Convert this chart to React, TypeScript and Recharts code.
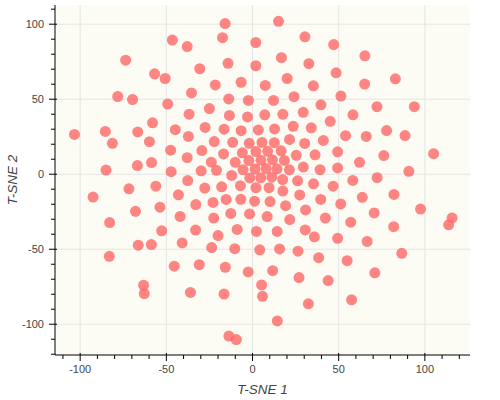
import React from "react";
import {
  ScatterChart,
  Scatter,
  XAxis,
  YAxis,
  CartesianGrid,
} from "recharts";

// t-SNE embedding
const tsne1 = [
  -15.9, 15.1, -17.4, 30.4, -46.5, -37.9, 1.9, 47.1, 65.2, -73.6,
  16.8, -14.2, 32.7, 1.9, -30.6, 48.5, -56.8, -50.7, 20.1, 82.9,
  -21.6, -6.6, 7.4, 35.3, 65.1, -35.4, -78.2, -69.6, -13.8, -2.4,
  12.2, 24.1, 51.3, -49.2, 39.7, 72.2, 93.9, -25.0, -36.8, -13.4,
  -2.9, 7.1, 17.6, 29.4, 58.3, -58.0, 45.1, -85.4, -66.6, -44.8,
  -27.5, -16.5, -6.6, 3.4, 12.8, 23.6, 34.1, -103.3, -37.2, 54.0,
  66.0, 77.8, 88.5, -81.3, -59.8, -22.2, -11.5, -1.9, 5.5, 12.7,
  21.5, 30.3, 41.1, -47.5, -29.4, -16.8, -5.9, 2.0, 8.8, 16.6,
  25.4, 36.3, 49.4, 76.2, 105.1, -37.9, -10.0, -2.1, 4.9, 11.6,
  18.5, -23.9, -58.6, -66.8, 62.1, -85.0, -47.2, -29.8, -20.9, -5.5,
  1.5, 7.9, 14.2, 21.4, 29.5, 39.2, 49.4, 90.7, -12.1, -1.6,
  4.8, 11.2, -37.6, 17.5, 26.2, 58.2, 72.3, -56.1, -7.0, 2.0,
  9.6, 35.4, 46.8, -71.7, -27.7, -17.9, 17.6, -92.5, -43.0, -15.3,
  -6.8, 1.2, 10.2, 27.4, 39.6, 63.7, 82.1, -32.9, -22.9, 19.2,
  51.2, -53.7, -67.9, -12.6, -1.7, 8.5, 30.8, 70.6, 97.5, -42.0,
  -22.5, 21.6, 42.3, 115.8, 113.8, -82.9, 57.0, -52.7, -33.0, -8.9,
  2.3, 14.3, 30.6, 81.9, -20.0, 35.9, 49.4, 66.5, -40.8, -66.3,
  -58.7, -23.7, -10.3, 4.2, 15.7, 26.4, 86.6, -83.1, 38.4, 54.9,
  -45.4, -30.9, -15.8, -2.5, 11.7, 71.0, 27.0, 43.9, 5.3, -63.2,
  -62.8, -36.0, -16.5, 5.8, 57.5, 32.4, 14.4, -13.7, -9.4,
];

const tsne2 = [
  100.4, 101.9, 91.0, 91.6, 89.4, 85.1, 87.8, 86.4, 78.9, 76.0,
  77.7, 73.9, 73.7, 72.3, 70.3, 67.6, 66.9, 63.8, 63.8, 63.6,
  59.5, 61.3, 59.2, 58.9, 60.1, 54.2, 51.8, 49.8, 50.2, 49.2,
  49.2, 51.7, 52.1, 46.8, 46.3, 45.0, 45.0, 43.8, 40.0, 39.2,
  38.2, 39.6, 39.9, 41.3, 39.6, 34.3, 35.3, 28.5, 28.2, 29.7,
  31.2, 30.0, 29.0, 29.5, 30.2, 31.9, 30.9, 26.5, 25.2, 25.7,
  25.2, 29.1, 25.8, 20.6, 21.7, 21.8, 21.3, 20.6, 21.2, 21.0,
  23.2, 20.5, 22.5, 16.0, 15.8, 13.5, 14.3, 15.1, 15.3, 15.6,
  12.6, 12.9, 14.9, 12.4, 13.7, 11.0, 7.9, 9.1, 9.3, 9.6,
  9.2, 8.0, 7.8, 5.8, 7.9, 2.8, 1.7, 2.3, 2.6, 3.0,
  3.4, 3.8, 3.6, 2.9, 4.8, 3.0, 4.2, 1.9, -0.8, -2.5,
  -2.4, -2.0, -4.2, -3.6, -4.4, -4.1, -2.3, -8.0, -7.6, -9.0,
  -9.0, -6.4, -8.0, -9.7, -9.2, -8.4, -11.2, -15.2, -13.7, -16.8,
  -16.7, -18.0, -18.2, -13.8, -16.8, -15.4, -13.5, -20.2, -18.8, -21.0,
  -19.8, -22.0, -24.7, -26.1, -26.5, -28.2, -23.8, -25.8, -23.2, -28.1,
  -29.2, -30.2, -29.2, -29.1, -33.7, -32.2, -32.0, -37.7, -37.2, -36.8,
  -38.1, -38.1, -37.1, -35.0, -40.9, -41.7, -42.7, -44.8, -45.8, -47.3,
  -46.9, -48.9, -49.6, -50.4, -49.8, -51.3, -52.7, -54.7, -55.6, -57.6,
  -61.3, -60.3, -62.0, -65.1, -64.3, -65.7, -68.9, -70.9, -73.8, -74.0,
  -79.6, -78.8, -79.9, -81.4, -83.7, -86.4, -97.8, -107.9, -110.2,
];

const xMajorTicks = [-100, -50, 0, 50, 100];
const yMajorTicks = [-100, -50, 0, 50, 100];
const xTicks = [
  -110, -100, -90, -80, -70, -60, -50, -40, -30, -20, -10, 0, 10, 20, 30, 40,
  50, 60, 70, 80, 90, 100, 110, 120,
];
const yTicks = [
  -120, -110, -100, -90, -80, -70, -60, -50, -40, -30, -20, -10, 0, 10, 20,
  30, 40, 50, 60, 70, 80, 90, 100, 110,
];

const data = tsne1.map((x, i) => ({ x, y: tsne2[i] }));

const X_DOMAIN: [number, number] = [-114.6, 126.2];
const Y_DOMAIN: [number, number] = [-120.5, 112.8];

const FONT = "Liberation Sans, Arial, sans-serif";
const labelStyle = {
  fontSize: 13.5,
  fill: "#444",
  fontStyle: "italic",
  fontFamily: FONT,
};

const Dot = (props: any) => (
  <circle cx={props.cx} cy={props.cy} r={5.5} fill="#ff6666" fillOpacity={0.8} />
);

// bokeh-style ticks: majors 2px in / 6px out with a label, minors 4px out
const XTick = (props: any) => {
  const { x, y, payload } = props;
  const major = xMajorTicks.includes(payload.value);
  return (
    <g>
      <line x1={x} x2={x} y1={y - (major ? 2 : 0)} y2={y + (major ? 6 : 4)} stroke="#000" />
      {major && (
        <text x={x} y={y + 10} dy="0.71em" textAnchor="middle" fontSize={11} fill="#444" fontFamily={FONT}>
          {payload.value}
        </text>
      )}
    </g>
  );
};

const YTick = (props: any) => {
  const { x, y, payload } = props;
  const major = yMajorTicks.includes(payload.value);
  return (
    <g>
      <line x1={x + (major ? 2 : 0)} x2={x - (major ? 6 : 4)} y1={y} y2={y} stroke="#000" />
      {major && (
        <text x={x - 11} y={y} dy="0.355em" textAnchor="end" fontSize={11} fill="#444" fontFamily={FONT}>
          {payload.value}
        </text>
      )}
    </g>
  );
};

export default function App() {
  return (
    <div style={{ position: "absolute", top: 0, left: 0, width: 500, height: 400, background: "#fff" }}>
      <ScatterChart width={500} height={400} margin={{ top: 5, right: 30, bottom: 0, left: 0 }}>
        <CartesianGrid
          stroke="#e5e5e5"
          fill="#fcfcf5"
          fillOpacity={1}
          verticalValues={xMajorTicks}
          horizontalValues={yMajorTicks}
        />
        <XAxis
          type="number"
          dataKey="x"
          domain={X_DOMAIN}
          allowDataOverflow
          ticks={xTicks}
          interval={0}
          tickSize={0}
          tickMargin={0}
          tick={<XTick />}
          tickLine={false}
          axisLine={{ stroke: "#000" }}
          height={45}
          label={{ value: "T-SNE 1", position: "insideBottom", offset: 6, style: labelStyle }}
        />
        <YAxis
          type="number"
          dataKey="y"
          domain={Y_DOMAIN}
          allowDataOverflow
          ticks={yTicks}
          interval={0}
          tickSize={0}
          tickMargin={0}
          tick={<YTick />}
          tickLine={false}
          axisLine={{ stroke: "#000" }}
          width={55}
          label={{
            value: "T-SNE 2",
            angle: -90,
            position: "insideLeft",
            offset: 12,
            style: { ...labelStyle, textAnchor: "middle" },
          }}
        />
        <Scatter data={data} shape={Dot} isAnimationActive={false} />
      </ScatterChart>
    </div>
  );
}
